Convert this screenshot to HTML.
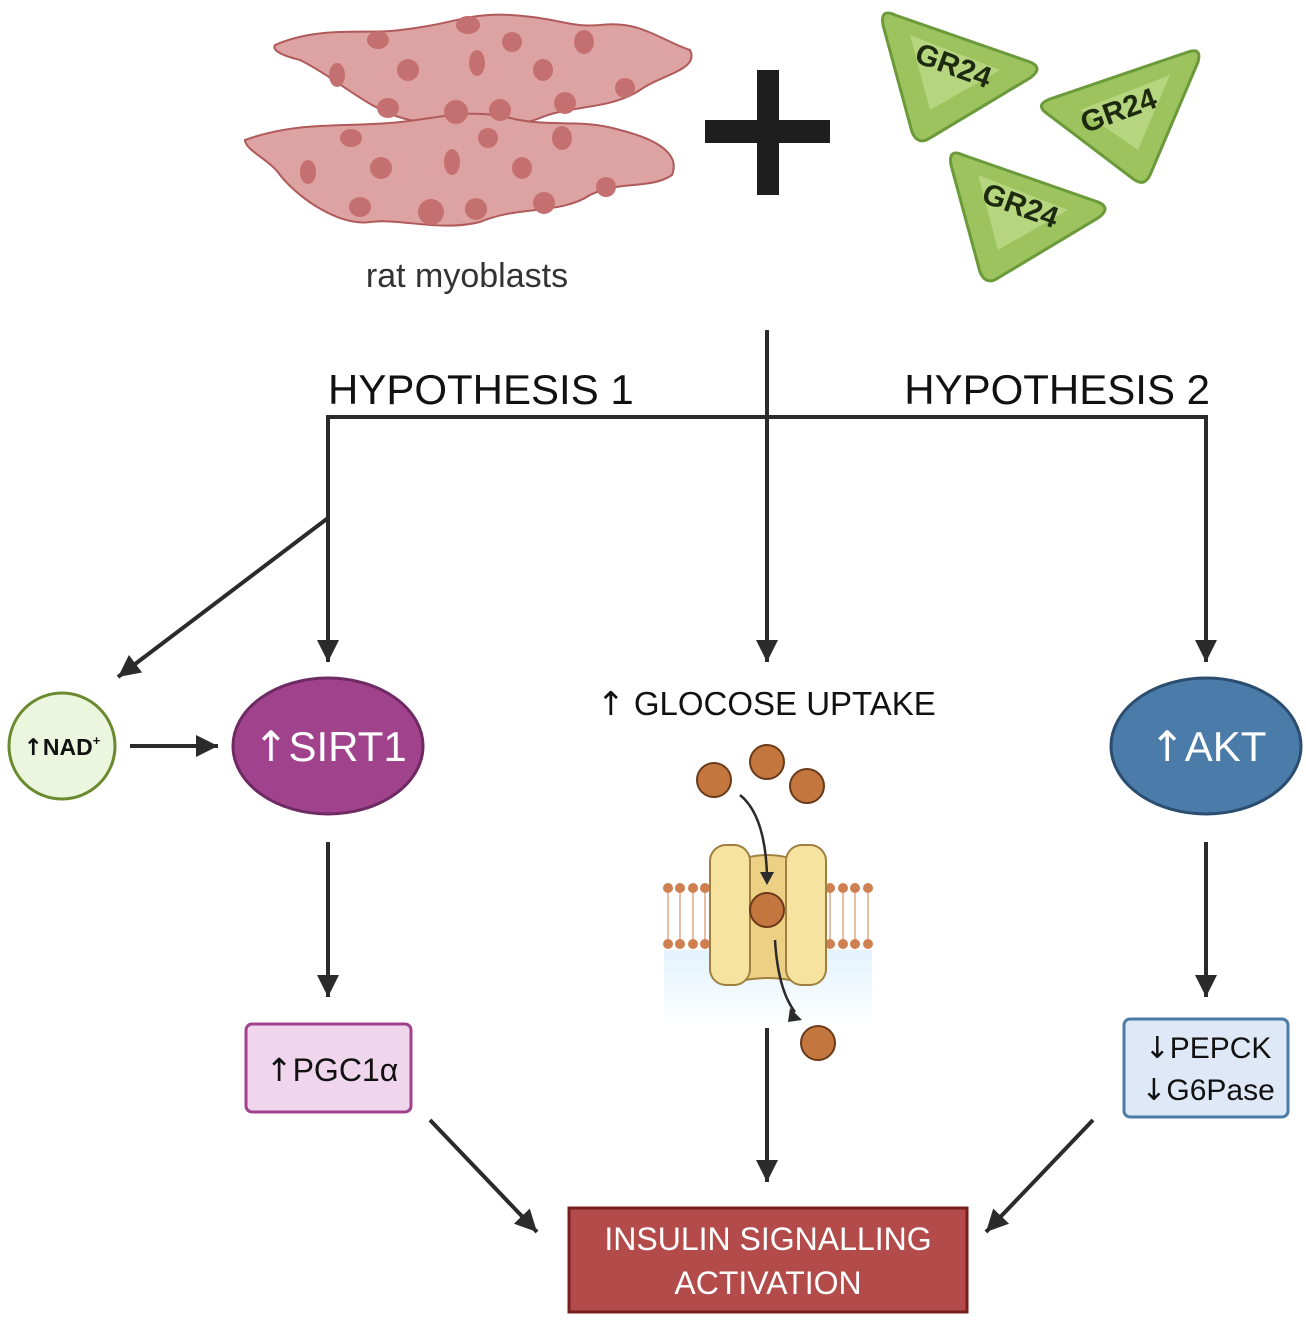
<!DOCTYPE html>
<html><head><meta charset="utf-8"><style>body{margin:0;background:#fff}svg{display:block}text{font-family:"Liberation Sans",sans-serif}.ar{font-family:"DejaVu Sans",sans-serif}</style></head><body>
<svg width="1306" height="1320" viewBox="0 0 1306 1320" xmlns="http://www.w3.org/2000/svg">
<defs>
<marker id="ah" markerWidth="22" markerHeight="22" refX="22" refY="11" orient="auto" markerUnits="userSpaceOnUse" viewBox="0 0 22 22"><path d="M0,0 L22,11 L0,22 z" fill="#2b2b2b"/></marker>
<linearGradient id="wat" x1="0" y1="0" x2="0" y2="1"><stop offset="0" stop-color="#e3f3fd"/><stop offset="1" stop-color="#fff"/></linearGradient>
</defs>
<!-- cells -->
<g stroke="#b05a5a" stroke-width="2" fill="#dda3a3">
<path d="M275,45 C320,25 370,35 400,30 C450,25 470,12 510,15 C560,18 570,28 600,25 C640,20 660,40 690,50 C700,70 660,75 640,90 C610,110 570,105 540,118 C510,130 450,128 410,120 C370,112 340,80 300,60 C280,55 272,50 275,45 Z"/>
<path d="M245,140 C300,120 350,128 400,122 C440,118 470,108 510,118 C550,128 580,118 620,130 C660,140 680,155 672,175 C650,190 620,180 590,195 C560,215 520,205 480,222 C440,232 400,218 370,222 C340,226 300,200 280,175 C270,160 245,150 245,140 Z"/>
</g>
<g fill="#c57070">
<ellipse cx="378" cy="40" rx="11" ry="9"/><ellipse cx="468" cy="25" rx="12" ry="9"/><ellipse cx="512" cy="42" rx="10" ry="10"/><ellipse cx="584" cy="42" rx="10" ry="12"/>
<ellipse cx="337" cy="75" rx="8" ry="12"/><ellipse cx="408" cy="70" rx="11" ry="11"/><ellipse cx="477" cy="63" rx="8" ry="13"/><ellipse cx="543" cy="70" rx="10" ry="11"/><ellipse cx="625" cy="88" rx="10" ry="10"/>
<ellipse cx="388" cy="108" rx="11" ry="10"/><ellipse cx="456" cy="112" rx="12" ry="12"/><ellipse cx="500" cy="110" rx="11" ry="11"/><ellipse cx="565" cy="103" rx="11" ry="11"/>
<ellipse cx="351" cy="138" rx="11" ry="9"/><ellipse cx="488" cy="138" rx="10" ry="10"/><ellipse cx="562" cy="138" rx="10" ry="12"/>
<ellipse cx="308" cy="172" rx="8" ry="12"/><ellipse cx="381" cy="168" rx="11" ry="11"/><ellipse cx="452" cy="162" rx="8" ry="13"/><ellipse cx="522" cy="168" rx="10" ry="11"/><ellipse cx="606" cy="187" rx="10" ry="10"/>
<ellipse cx="360" cy="207" rx="11" ry="10"/><ellipse cx="431" cy="212" rx="13" ry="13"/><ellipse cx="476" cy="209" rx="11" ry="11"/><ellipse cx="544" cy="203" rx="11" ry="11"/>
</g>
<text x="467" y="287" font-size="34" fill="#333" text-anchor="middle">rat myoblasts</text>
<!-- plus -->
<rect x="757" y="70" width="22" height="125" fill="#1e1e1e"/><rect x="705" y="120" width="125" height="23" fill="#1e1e1e"/>
<!-- GR24 -->
<g fill="#9dc35f" stroke="#6b9a3a" stroke-width="3" stroke-linejoin="round">
<path d="M895,15 Q880,8 883,25 L912,132 Q918,146 930,138 L1030,78 Q1044,68 1030,62 Z"/>
<path d="M1188,52 Q1202,47 1198,62 L1150,175 Q1144,188 1132,178 L1045,112 Q1036,104 1050,99 Z"/>
<path d="M963,155 Q948,148 951,165 L980,272 Q986,286 998,278 L1098,218 Q1112,208 1098,202 Z"/>
</g>
<g fill="#b5d57e">
<path d="M910,35 L1000,70 L930,110 Z"/><path d="M1170,75 L1080,110 L1138,150 Z"/><path d="M978,175 L1068,210 L998,250 Z"/>
</g>
<g font-size="30" font-weight="bold" fill="#1e2a10">
<text x="950" y="75" text-anchor="middle" transform="rotate(20 950 75)">GR24</text>
<text x="1122" y="120" text-anchor="middle" transform="rotate(-20 1122 120)">GR24</text>
<text x="1017" y="215" text-anchor="middle" transform="rotate(20 1017 215)">GR24</text>
</g>
<!-- lines -->
<g stroke="#2b2b2b" stroke-width="4" fill="none">
<line x1="767" y1="330" x2="767" y2="662" marker-end="url(#ah)"/>
<polyline points="328,650 328,417 1206,417 1206,650"/>
<line x1="328" y1="417" x2="328" y2="662" marker-end="url(#ah)"/>
<line x1="1206" y1="417" x2="1206" y2="662" marker-end="url(#ah)"/>
<line x1="328" y1="518" x2="118" y2="677" marker-end="url(#ah)"/>
<line x1="130" y1="746" x2="218" y2="746" marker-end="url(#ah)"/>
<line x1="328" y1="842" x2="328" y2="997" marker-end="url(#ah)"/>
<line x1="1206" y1="842" x2="1206" y2="997" marker-end="url(#ah)"/>
<line x1="430" y1="1120" x2="537" y2="1232" marker-end="url(#ah)"/>
<line x1="767" y1="1025" x2="767" y2="1182" marker-end="url(#ah)"/>
<line x1="1093" y1="1120" x2="986" y2="1232" marker-end="url(#ah)"/>
</g>
<text x="328" y="404" font-size="42" fill="#111">HYPOTHESIS 1</text>
<text x="1210" y="404" font-size="42" fill="#111" text-anchor="end">HYPOTHESIS 2</text>
<!-- NAD -->
<circle cx="62" cy="746" r="53" fill="#ecf6df" stroke="#6a8a30" stroke-width="3"/>
<text x="62" y="755" font-size="23" font-weight="bold" text-anchor="middle" fill="#111"><tspan class="ar">↑</tspan>NAD<tspan font-size="13" dy="-10">+</tspan></text>
<!-- SIRT1 -->
<ellipse cx="328" cy="746" rx="95" ry="68" fill="#a0428c" stroke="#6e2a62" stroke-width="3"/>
<text x="330" y="761" font-size="42" fill="#fff" text-anchor="middle"><tspan class="ar">↑</tspan>SIRT1</text>
<!-- AKT -->
<ellipse cx="1206" cy="746" rx="95" ry="68" fill="#4b7ba8" stroke="#2a4d70" stroke-width="3"/>
<text x="1208" y="761" font-size="42" fill="#fff" text-anchor="middle"><tspan class="ar">↑</tspan>AKT</text>
<!-- glucose -->
<text x="597" y="715" font-size="33" fill="#111"><tspan class="ar">↑</tspan> GLOCOSE UPTAKE</text>
<rect x="664" y="950" width="208" height="78" fill="url(#wat)"/>
<g stroke="#e0a888" stroke-width="1.5">
<path d="M668,890 v55 M680,890 v55 M693,890 v55 M705,890 v55 M830,890 v55 M843,890 v55 M855,890 v55 M868,890 v55"/>
</g>
<g fill="#cf8050">
<circle cx="668" cy="888" r="5"/><circle cx="680" cy="888" r="5"/><circle cx="693" cy="888" r="5"/><circle cx="705" cy="888" r="5"/>
<circle cx="830" cy="888" r="5"/><circle cx="843" cy="888" r="5"/><circle cx="855" cy="888" r="5"/><circle cx="868" cy="888" r="5"/>
<circle cx="668" cy="944" r="5"/><circle cx="680" cy="944" r="5"/><circle cx="693" cy="944" r="5"/><circle cx="705" cy="944" r="5"/>
<circle cx="830" cy="944" r="5"/><circle cx="843" cy="944" r="5"/><circle cx="855" cy="944" r="5"/><circle cx="868" cy="944" r="5"/>
</g>
<g stroke="#a08040" stroke-width="2">
<path d="M745,858 Q767,852 790,858 L790,980 Q767,976 745,980 Z" fill="#ecd084"/>
<rect x="710" y="845" width="40" height="140" rx="16" fill="#f7e3a0"/>
<rect x="786" y="845" width="40" height="140" rx="16" fill="#f7e3a0"/>
</g>
<g fill="#c4763f" stroke="#6a3a1a" stroke-width="2">
<circle cx="714" cy="780" r="17"/><circle cx="767" cy="762" r="17"/><circle cx="807" cy="786" r="17"/><circle cx="767" cy="910" r="17"/><circle cx="818" cy="1043" r="17"/>
</g>
<g stroke="#2b2b2b" stroke-width="2.5" fill="none">
<path d="M740,795 Q765,815 767,875"/><path d="M775,940 Q778,990 795,1012"/>
</g>
<path d="M760,872 L774,872 L767,885 Z" fill="#2b2b2b"/>
<path d="M790,1008 L802,1020 L788,1022 Z" fill="#2b2b2b"/>
<!-- boxes -->
<rect x="246" y="1024" width="165" height="88" rx="6" fill="#f0d6ec" stroke="#a0428c" stroke-width="3"/>
<text x="332" y="1081" font-size="32" text-anchor="middle" fill="#111"><tspan class="ar">↑</tspan>PGC1α</text>
<rect x="1124" y="1019" width="164" height="98" rx="6" fill="#dee8f6" stroke="#4b7ba8" stroke-width="3"/>
<text x="1208" y="1058" font-size="30" text-anchor="middle" fill="#111"><tspan class="ar">↓</tspan>PEPCK</text>
<text x="1208" y="1100" font-size="30" text-anchor="middle" fill="#111"><tspan class="ar">↓</tspan>G6Pase</text>
<rect x="569" y="1208" width="398" height="104" fill="#b34b4b" stroke="#7a1f1f" stroke-width="3"/>
<text x="768" y="1250" font-size="32" text-anchor="middle" fill="#fff">INSULIN SIGNALLING</text>
<text x="768" y="1294" font-size="32" text-anchor="middle" fill="#fff">ACTIVATION</text>
</svg>
</body></html>
